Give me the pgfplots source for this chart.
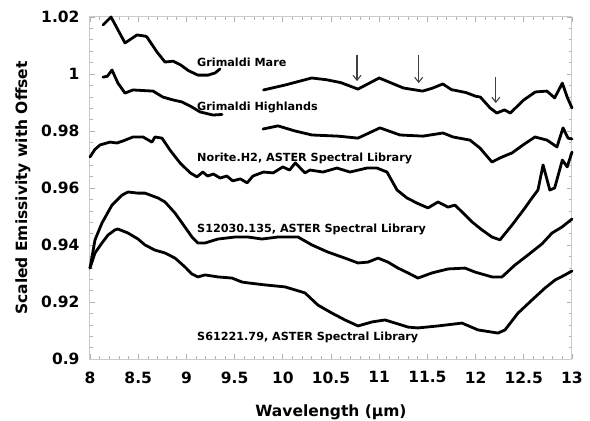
\documentclass[border=0pt]{standalone}
\usepackage{fontspec}
\setmainfont{DejaVu Sans}
\usepackage{pgfplots}
\pgfplotsset{compat=1.18}
\usetikzlibrary{arrows.meta}
\newcommand{\tfont}{\fontsize{15.5}{18}\selectfont\bfseries}
\newcommand{\lfont}{\fontsize{11.2}{13}\selectfont\bfseries}
\tikzset{spec/.style={black, line width=2.8pt, line join=round, line cap=round, mark=none}}
\begin{document}
\begin{tikzpicture}
\useasboundingbox (-90pt,-62pt) rectangle (500pt,359pt);
\begin{axis}[
  at={(0,0)}, anchor=south west,
  scale only axis, width=482pt, height=342pt,
  xmin=8, xmax=13, ymin=0.9, ymax=1.02,
  xtick={8,8.5,9,9.5,10,10.5,11,11.5,12,12.5,13},
  xticklabels={8,8.5,9,9.5,10,10.5,11,11.5,12,12.5,13},
  ytick={0.9,0.92,0.94,0.96,0.98,1,1.02},
  yticklabels={0.9,0.92,0.94,0.96,0.98,1,1.02},
  minor x tick num=4, minor y tick num=4,
  tick align=inside,
  major tick length=5pt, minor tick length=3pt,
  tick style={gray!60, line width=0.6pt},
  axis line style={gray!40, line width=1pt},
  xticklabel style={font=\tfont, yshift=-9pt},
  yticklabel style={font=\tfont, xshift=-7pt},
  xlabel={Wavelength (µm)}, ylabel={Scaled Emissivity with Offset},
  xlabel style={at={(axis description cs:0.5,-0.155)}, anchor=center, font=\tfont},
  ylabel style={at={(axis description cs:-0.139,0.5)}, anchor=center, font=\tfont},
  clip=false,
]
% Grimaldi Mare
\addplot[spec] coordinates {(8.135,1.0172)(8.218,1.0200)(8.363,1.0109)(8.488,1.0137)(8.571,1.0133)(8.59,1.0130)(8.695,1.0077)(8.778,1.0042)(8.861,1.0045)(8.94,1.0032)(9.02,1.0012)(9.12,0.9996)(9.224,0.9996)(9.30,1.0004)(9.349,1.0018)};
\addplot[spec] coordinates {(9.80,0.9944)(10.02,0.9961)(10.3,0.9986)(10.45,0.9980)(10.6,0.9970)(10.78,0.9947)(11.0,0.9986)(11.25,0.9951)(11.45,0.9940)(11.55,0.9950)(11.66,0.9965)(11.75,0.9945)(11.9,0.9935)(12.0,0.9922)(12.05,0.9919)(12.15,0.9881)(12.22,0.9863)(12.3,0.9874)(12.36,0.9863)(12.5,0.9909)(12.62,0.9937)(12.74,0.9940)(12.82,0.9916)(12.9,0.9968)(12.95,0.9919)(13.0,0.9881)};
% Grimaldi Highlands
\addplot[spec] coordinates {(8.135,0.9989)(8.18,0.9992)(8.228,1.0014)(8.29,0.9968)(8.363,0.9933)(8.446,0.9944)(8.654,0.9940)(8.757,0.9919)(8.861,0.9909)(8.954,0.9902)(9.058,0.9884)(9.141,0.9867)(9.276,0.9856)(9.369,0.9858)};
\addplot[spec] coordinates {(9.795,0.9807)(9.95,0.9818)(10.127,0.9800)(10.303,0.9786)(10.573,0.9782)(10.78,0.9775)(11.008,0.9811)(11.216,0.9786)(11.454,0.9782)(11.662,0.9793)(11.766,0.9779)(11.942,0.9768)(12.046,0.9740)(12.17,0.9691)(12.25,0.9705)(12.326,0.9716)(12.378,0.9723)(12.492,0.9751)(12.616,0.9779)(12.741,0.9768)(12.844,0.9744)(12.907,0.9811)(12.959,0.9775)(13.0,0.9772)};
% Norite.H2
\addplot[spec] coordinates {(8.0,0.9709)(8.05,0.9735)(8.104,0.9751)(8.207,0.9761)(8.28,0.9758)(8.342,0.9765)(8.446,0.9779)(8.55,0.9779)(8.643,0.9761)(8.674,0.9779)(8.747,0.9775)(8.83,0.9733)(8.934,0.9688)(9.04,0.9653)(9.11,0.9639)(9.17,0.9656)(9.22,0.9642)(9.28,0.9649)(9.35,0.9635)(9.42,0.9642)(9.48,0.9625)(9.56,0.9632)(9.63,0.9618)(9.69,0.9642)(9.80,0.9656)(9.90,0.9653)(10.0,0.9674)(10.07,0.9663)(10.13,0.9688)(10.23,0.9653)(10.282,0.9663)(10.417,0.9656)(10.562,0.9670)(10.697,0.9656)(10.873,0.9670)(10.977,0.9670)(11.081,0.9656)(11.185,0.9593)(11.288,0.9565)(11.392,0.9547)(11.506,0.9530)(11.61,0.9551)(11.714,0.9533)(11.786,0.9540)(11.859,0.9516)(11.963,0.9481)(12.066,0.9453)(12.17,0.9428)(12.253,0.9418)(12.378,0.9470)(12.512,0.9530)(12.585,0.9565)(12.647,0.9593)(12.70,0.9681)(12.77,0.9593)(12.82,0.9600)(12.90,0.9698)(12.95,0.9674)(13.0,0.9726)};
% S12030.135
\addplot[spec] coordinates {(8.0,0.9319)(8.052,0.9418)(8.124,0.9477)(8.228,0.9540)(8.332,0.9575)(8.394,0.9586)(8.498,0.9582)(8.571,0.9582)(8.705,0.9565)(8.778,0.9551)(8.882,0.9512)(8.985,0.9463)(9.058,0.9428)(9.12,0.9407)(9.193,0.9407)(9.328,0.9421)(9.504,0.9428)(9.639,0.9428)(9.784,0.9421)(9.95,0.9428)(10.158,0.9428)(10.303,0.9400)(10.469,0.9375)(10.645,0.9354)(10.78,0.9337)(10.884,0.9340)(10.988,0.9354)(11.091,0.9340)(11.195,0.9319)(11.299,0.9302)(11.402,0.9284)(11.548,0.9302)(11.714,0.9316)(11.89,0.9319)(11.994,0.9305)(12.17,0.9288)(12.274,0.9288)(12.409,0.9330)(12.544,0.9365)(12.689,0.9404)(12.793,0.9442)(12.896,0.9463)(13.0,0.9491)};
% S61221.79
\addplot[spec] coordinates {(8.0,0.9319)(8.052,0.9372)(8.124,0.9407)(8.187,0.9435)(8.259,0.9453)(8.29,0.9456)(8.394,0.9442)(8.498,0.9421)(8.571,0.9400)(8.674,0.9382)(8.778,0.9372)(8.882,0.9354)(8.985,0.9323)(9.058,0.9298)(9.12,0.9288)(9.193,0.9295)(9.328,0.9288)(9.473,0.9284)(9.577,0.9270)(9.639,0.9267)(9.815,0.9260)(10.023,0.9253)(10.23,0.9232)(10.365,0.9189)(10.51,0.9161)(10.645,0.9137)(10.78,0.9116)(10.925,0.9130)(11.06,0.9137)(11.195,0.9123)(11.299,0.9112)(11.402,0.9109)(11.61,0.9116)(11.859,0.9126)(12.025,0.9102)(12.232,0.9091)(12.305,0.9102)(12.44,0.9161)(12.585,0.9207)(12.72,0.9249)(12.824,0.9277)(12.927,0.9295)(13.0,0.9309)};
% labels
\node[anchor=west, inner sep=0pt, font=\lfont] at (axis cs:9.11,1.0042) {Grimaldi Mare};
\node[anchor=west, inner sep=0pt, font=\lfont] at (axis cs:9.11,0.9884) {Grimaldi Highlands};
\node[anchor=west, inner sep=0pt, font=\lfont] at (axis cs:9.11,0.9705) {Norite.H2, ASTER Spectral Library};
\node[anchor=west, inner sep=0pt, font=\lfont] at (axis cs:9.11,0.9456) {S12030.135, ASTER Spectral Library};
\node[anchor=west, inner sep=0pt, font=\lfont] at (axis cs:9.11,0.9074) {S61221.79, ASTER Spectral Library};
% arrows
\draw[-{Straight Barb[length=5pt,width=8pt]}, line width=1.1pt, black!75] (axis cs:10.77,1.0067) -- (axis cs:10.77,0.9975);
\draw[-{Straight Barb[length=5pt,width=8pt]}, line width=1.1pt, black!75] (axis cs:11.41,1.0067) -- (axis cs:11.41,0.9968);
\draw[-{Straight Barb[length=5pt,width=8pt]}, line width=1.1pt, black!75] (axis cs:12.21,0.9989) -- (axis cs:12.21,0.9898);
\end{axis}
\end{tikzpicture}
\end{document}
